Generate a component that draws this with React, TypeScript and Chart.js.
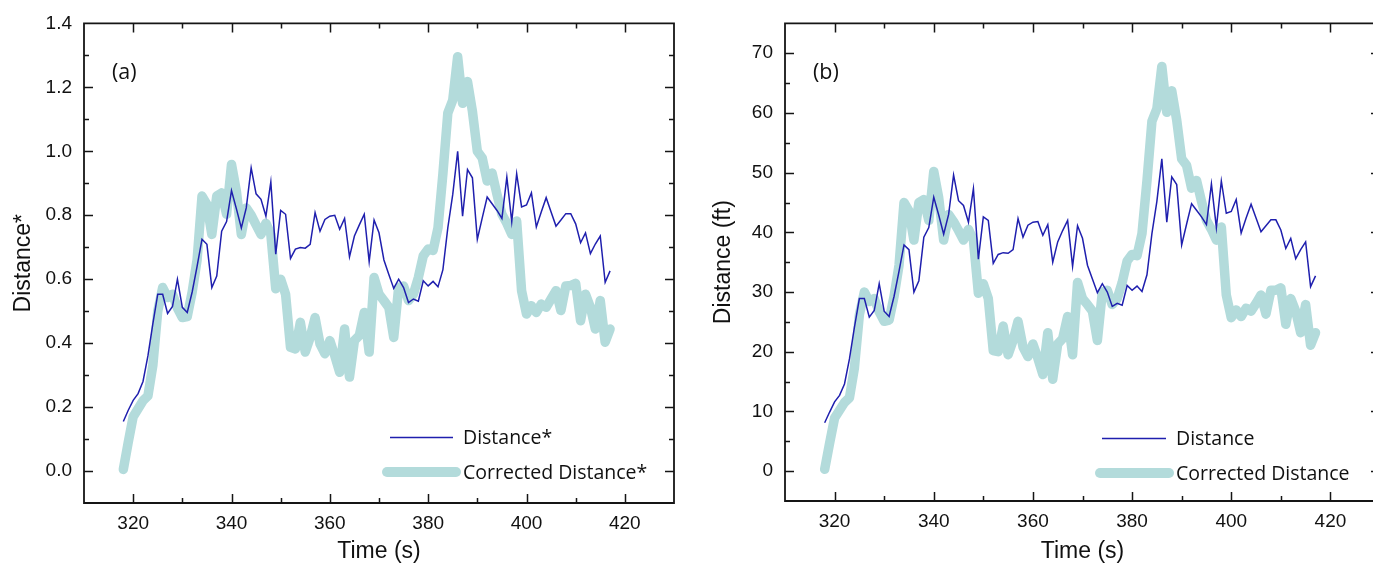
import React, { useEffect, useRef } from 'react';
import { Chart, registerables } from 'chart.js';

Chart.register(...registerables);

// ---------- data ----------
const times = [
  318, 319, 320, 321, 322, 323, 324, 325, 326, 327,
  328, 329, 330, 331, 332, 333, 334, 335, 336, 337,
  338, 339, 340, 341, 342, 343, 344, 345, 346, 347,
  348, 349, 350, 351, 352, 353, 354, 355, 356, 357,
  358, 359, 360, 361, 362, 363, 364, 365, 366, 367,
  368, 369, 370, 371, 372, 373, 374, 375, 376, 377,
  378, 379, 380, 381, 382, 383, 384, 385, 386, 387,
  388, 389, 390, 391, 392, 393, 394, 395, 396, 397,
  398, 399, 400, 401, 402, 403, 404, 405, 406, 407,
  408, 409, 410, 411, 412, 413, 414, 415, 416, 417,
];

// panel (a)
const distanceStar = [
  0.155, 0.19, 0.221, 0.242, 0.28, 0.36, 0.46, 0.553, 0.553, 0.493,
  0.515, 0.6, 0.512, 0.496, 0.56, 0.64, 0.725, 0.709, 0.574, 0.61,
  0.75, 0.78, 0.877, 0.82, 0.76, 0.823, 0.948, 0.867, 0.85, 0.797,
  0.904, 0.678, 0.815, 0.803, 0.665, 0.694, 0.699, 0.697, 0.709, 0.808,
  0.75, 0.787, 0.797, 0.8, 0.756, 0.79, 0.67, 0.735, 0.77, 0.803,
  0.655, 0.785, 0.745, 0.66, 0.615, 0.571, 0.6, 0.574, 0.527, 0.538,
  0.531, 0.595, 0.579, 0.593, 0.576, 0.63, 0.761, 0.865, 1.0, 0.797,
  0.943, 0.917, 0.725, 0.792, 0.857, 0.836, 0.815, 0.79, 0.919, 0.78,
  0.93, 0.826, 0.832, 0.87, 0.763, 0.81, 0.855, 0.81, 0.766, 0.785,
  0.805, 0.805, 0.773, 0.714, 0.745, 0.68, 0.71, 0.735, 0.59, 0.626,
];
const correctedStar = [
  0.005, 0.09, 0.17, 0.195, 0.22, 0.235, 0.33, 0.5, 0.574, 0.543,
  0.553, 0.51, 0.48, 0.483, 0.56, 0.66, 0.86, 0.834, 0.74, 0.86,
  0.87, 0.803, 0.959, 0.875, 0.74, 0.823, 0.8, 0.77, 0.74, 0.775,
  0.74, 0.57, 0.6, 0.553, 0.387, 0.382, 0.465, 0.372, 0.418, 0.48,
  0.398, 0.367, 0.408, 0.361, 0.309, 0.444, 0.294, 0.408, 0.424, 0.496,
  0.372, 0.605, 0.553, 0.533, 0.512, 0.418, 0.574, 0.579, 0.533, 0.553,
  0.605, 0.673, 0.694, 0.69, 0.761, 0.93, 1.12, 1.16, 1.296, 1.15,
  1.218, 1.125, 1.0, 0.979, 0.907, 0.932, 0.865, 0.803, 0.775, 0.74,
  0.782, 0.564, 0.491, 0.517, 0.496, 0.522, 0.512, 0.538, 0.564, 0.502,
  0.579, 0.58, 0.587, 0.47, 0.553, 0.512, 0.444, 0.533, 0.403, 0.444,
];

// panel (b)
const distanceFt = [
  8.1, 9.9, 11.6, 12.7, 14.6, 18.8, 24.1, 28.9, 28.9, 25.8,
  26.9, 31.4, 26.8, 25.9, 29.3, 33.5, 37.9, 37.1, 30.0, 31.9,
  39.2, 40.8, 45.9, 42.9, 39.7, 43.0, 49.6, 45.3, 44.5, 41.7,
  47.3, 35.5, 42.6, 42.0, 34.8, 36.3, 36.6, 36.5, 37.1, 42.3,
  39.2, 41.2, 41.7, 41.8, 39.5, 41.3, 35.0, 38.4, 40.3, 42.0,
  34.3, 41.1, 39.0, 34.5, 32.2, 29.9, 31.4, 30.0, 27.6, 28.1,
  27.8, 31.1, 30.3, 31.0, 30.1, 32.9, 39.8, 45.2, 52.3, 41.7,
  49.3, 48.0, 37.9, 41.4, 44.8, 43.7, 42.6, 41.3, 48.1, 40.8,
  48.6, 43.2, 43.5, 45.5, 39.9, 42.4, 44.7, 42.4, 40.1, 41.1,
  42.1, 42.1, 40.4, 37.3, 39.0, 35.6, 37.1, 38.4, 30.9, 32.7,
];
const correctedFt = [
  0.3, 4.7, 8.9, 10.2, 11.5, 12.3, 17.3, 26.2, 30.0, 28.4,
  28.9, 26.7, 25.1, 25.3, 29.3, 34.5, 45.0, 43.6, 38.7, 45.0,
  45.5, 42.0, 50.2, 45.8, 38.7, 43.0, 41.8, 40.3, 38.7, 40.5,
  38.7, 29.8, 31.4, 28.9, 20.2, 20.0, 24.3, 19.5, 21.9, 25.1,
  20.8, 19.2, 21.3, 18.9, 16.2, 23.2, 15.4, 21.3, 22.2, 25.9,
  19.5, 31.6, 28.9, 27.9, 26.8, 21.9, 30.0, 30.3, 27.9, 28.9,
  31.6, 35.2, 36.3, 36.1, 39.8, 48.6, 58.6, 60.7, 67.8, 60.1,
  63.7, 58.8, 52.3, 51.2, 47.4, 48.7, 45.2, 42.0, 40.5, 38.7,
  40.9, 29.5, 25.7, 27.0, 25.9, 27.3, 26.8, 28.1, 29.5, 26.3,
  30.3, 30.3, 30.7, 24.6, 28.9, 26.8, 23.2, 27.9, 21.1, 23.2,
];

const xTickValues = [320, 340, 360, 380, 400, 420];
const yTickValuesA = [0.0, 0.2, 0.4, 0.6, 0.8, 1.0, 1.2, 1.4];
const yTickValuesB = [0, 10, 20, 30, 40, 50, 60, 70];

const BLUE = '#1f1fae';
const TEAL = '#b3dbdb';
const TICK_FONT = "'Liberation Sans', Arial, sans-serif";
const TEXT_FONT = "'Open Sans', 'Noto Sans', sans-serif";

// ---------- decoration plugin (frame, inward ticks, panel label, legend) ----------
const decorPlugin = {
  id: 'decor',
  afterDraw(chart: any, _args: any, opts: any) {
    const { ctx, chartArea: a } = chart;
    const xs = chart.scales.x;
    const ys = chart.scales.y;
    ctx.save();
    ctx.strokeStyle = '#151515';
    ctx.lineWidth = 1.8;
    ctx.beginPath();
    ctx.rect(a.left, a.top, a.right - a.left, a.bottom - a.top);
    ctx.stroke();

    ctx.lineWidth = 1.5;
    const drawTicks = (scale: any, step: number, horizontal: boolean) => {
      const start = Math.ceil(scale.min / step - 1e-6);
      const end = Math.floor(scale.max / step + 1e-6);
      for (let n = start; n <= end; n++) {
        const v = n * step;
        if (Math.abs(v - scale.min) < step * 0.01 || Math.abs(v - scale.max) < step * 0.01) continue;
        const len = n % 2 === 0 ? 9 : 5;
        const p = Math.round(scale.getPixelForValue(v)) + 0.5;
        ctx.beginPath();
        if (horizontal) {
          ctx.moveTo(p, a.bottom); ctx.lineTo(p, a.bottom - len);
          ctx.moveTo(p, a.top); ctx.lineTo(p, a.top + len);
        } else {
          ctx.moveTo(a.left, p); ctx.lineTo(a.left + len, p);
          ctx.moveTo(a.right, p); ctx.lineTo(a.right - len, p);
        }
        ctx.stroke();
      }
    };
    drawTicks(xs, opts.xMinor, true);
    drawTicks(ys, opts.yMinor, false);

    // panel label
    ctx.fillStyle = '#111';
    ctx.font = `21.5px ${TEXT_FONT}`;
    ctx.textAlign = 'left';
    ctx.textBaseline = 'middle';
    ctx.fillText(opts.panel, a.left + opts.panelDx, a.top + opts.panelDy);

    // legend
    const ds = chart.data.datasets;
    const L = opts.legend;
    ctx.lineCap = 'butt';
    ctx.strokeStyle = ds[0].borderColor;
    ctx.lineWidth = 1.5;
    ctx.beginPath();
    ctx.moveTo(a.left + L.thinX0, L.y1);
    ctx.lineTo(a.left + L.thinX1, L.y1);
    ctx.stroke();
    ctx.lineCap = 'round';
    ctx.strokeStyle = ds[1].borderColor;
    ctx.lineWidth = 10;
    ctx.beginPath();
    ctx.moveTo(a.left + L.thickX0, L.y2);
    ctx.lineTo(a.left + L.thickX1, L.y2);
    ctx.stroke();
    ctx.fillStyle = '#111';
    ctx.font = `19.5px ${TEXT_FONT}`;
    ctx.fillText(ds[0].label, a.left + L.textX, L.y1 + 1);
    ctx.fillText(ds[1].label, a.left + L.textX, L.y2 + 1);
    ctx.restore();
  },
};

type PanelProps = {
  left: number;
  width: number;
  pad: { top: number; right: number };
  yAxisWidth: number;
  xAxisHeight: number;
  yMin: number;
  yMax: number;
  yTicks: number[];
  yDecimals: number;
  yMinor: number;
  yTitle: string;
  blue: number[];
  teal: number[];
  blueLabel: string;
  tealLabel: string;
  panel: string;
  legend: any;
};

function Panel(p: PanelProps) {
  const ref = useRef<HTMLCanvasElement | null>(null);
  useEffect(() => {
    if (!ref.current) return;
    const chart = new Chart(ref.current, {
      type: 'line',
      data: {
        datasets: [
          {
            label: p.blueLabel,
            data: times.map((t, i) => ({ x: t, y: p.blue[i] })),
            borderColor: BLUE,
            borderWidth: 1.5,
            pointRadius: 0,
            tension: 0,
          },
          {
            label: p.tealLabel,
            data: times.map((t, i) => ({ x: t, y: p.teal[i] })),
            borderColor: TEAL,
            borderWidth: 9.5,
            borderCapStyle: 'round',
            borderJoinStyle: 'round',
            pointRadius: 0,
            tension: 0,
          },
        ],
      },
      options: {
        responsive: false,
        animation: false,
        devicePixelRatio: 1,
        layout: { padding: { top: p.pad.top, right: p.pad.right, left: 0, bottom: 0 } },
        plugins: {
          legend: { display: false },
          tooltip: { enabled: false },
          decor: {
            xMinor: 10,
            yMinor: p.yMinor,
            panel: p.panel,
            panelDx: 28,
            panelDy: 49,
            legend: p.legend,
          },
        } as any,
        scales: {
          x: {
            type: 'linear',
            min: 310,
            max: 430,
            grid: { display: false, drawTicks: false },
            border: { display: false },
            afterBuildTicks: (s: any) => {
              s.ticks = xTickValues.map((v) => ({ value: v }));
            },
            afterFit: (s: any) => {
              s.height = p.xAxisHeight;
            },
            ticks: {
              color: '#111',
              padding: 9,
              maxRotation: 0,
              font: { family: TICK_FONT, size: 19 },
              callback: (v: any) => String(v),
            },
            title: {
              display: true,
              text: 'Time (s)',
              color: '#111',
              font: { family: TICK_FONT, size: 23 },
              padding: { top: 0, bottom: 1 },
            },
          },
          y: {
            type: 'linear',
            min: p.yMin,
            max: p.yMax,
            grid: { display: false, drawTicks: false },
            border: { display: false },
            afterBuildTicks: (s: any) => {
              s.ticks = p.yTicks.map((v) => ({ value: v }));
            },
            afterFit: (s: any) => {
              s.width = p.yAxisWidth;
            },
            ticks: {
              color: '#111',
              padding: 12,
              font: { family: TICK_FONT, size: 19 },
              callback: (v: any) => Number(v).toFixed(p.yDecimals),
            },
            title: {
              display: true,
              text: p.yTitle,
              color: '#111',
              font: { family: TICK_FONT, size: 23 },
              padding: { top: 10, bottom: 0 },
            },
          },
        },
      },
      plugins: [decorPlugin],
    } as any);
    return () => chart.destroy();
  }, []);
  return (
    <canvas
      ref={ref}
      width={p.width}
      height={566}
      style={{ position: 'absolute', left: p.left, top: 0, width: p.width, height: 566 }}
    />
  );
}

export default function App() {
  return (
    <div
      style={{
        position: 'absolute',
        left: 0,
        top: 0,
        width: 1373,
        height: 566,
        overflow: 'hidden',
        background: '#fff',
      }}
    >
      <Panel
        left={0}
        width={700}
        pad={{ top: 20, right: 26 }}
        yAxisWidth={84}
        xAxisHeight={63}
        yMin={-0.1}
        yMax={1.4}
        yTicks={yTickValuesA}
        yDecimals={1}
        yMinor={0.1}
        yTitle="Distance*"
        blue={distanceStar}
        teal={correctedStar}
        blueLabel="Distance*"
        tealLabel="Corrected Distance*"
        panel="(a)"
        legend={{ thinX0: 306, thinX1: 369, thickX0: 303, thickX1: 372, textX: 379, y1: 437.5, y2: 472 }}
      />
      <Panel
        left={700}
        width={700}
        pad={{ top: 21, right: 20 }}
        yAxisWidth={85}
        xAxisHeight={65}
        yMin={-5}
        yMax={75}
        yTicks={yTickValuesB}
        yDecimals={0}
        yMinor={5}
        yTitle="Distance (ft)"
        blue={distanceFt}
        teal={correctedFt}
        blueLabel="Distance"
        tealLabel="Corrected Distance"
        panel="(b)"
        legend={{ thinX0: 317, thinX1: 381, thickX0: 315, thickX1: 384, textX: 391, y1: 438.5, y2: 473 }}
      />
    </div>
  );
}
